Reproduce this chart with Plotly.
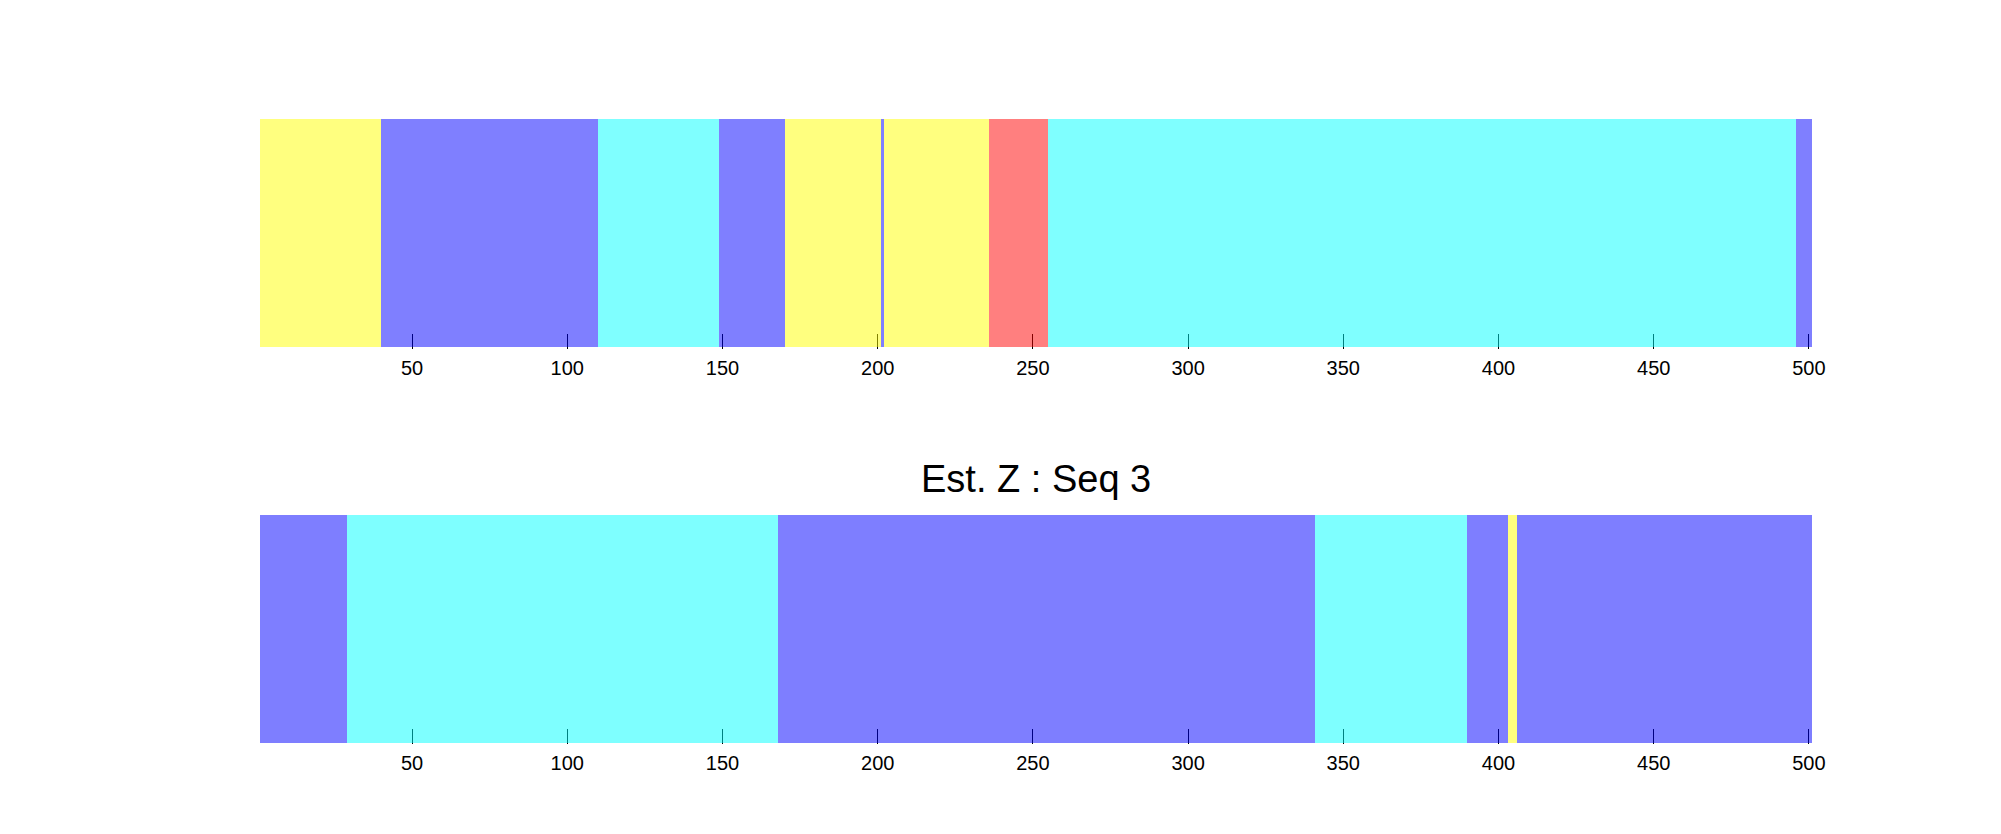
import plotly.graph_objects as go

# State colours (drawn at 50% opacity over white, like the reference)
state_names = ["blue", "cyan", "yellow", "red"]
state_colors = ["#0000FF", "#00FFFF", "#FFFF00", "#FF0000"]

# Top sequence: run boundaries (cell edges) and the state of each run
top_bounds = [1, 40, 110, 149, 170, 201, 202, 236, 255, 496, 501]
top_states = [3, 1, 2, 1, 3, 1, 3, 4, 2, 1]

# Bottom sequence: "Est. Z : Seq 3"
bot_bounds = [1, 29, 168, 341, 390, 403, 406, 501]
bot_states = [1, 2, 1, 2, 1, 3, 1]

tick_vals = [50, 100, 150, 200, 250, 300, 350, 400, 450, 500]
tick_text = [str(v) for v in tick_vals]
bottom_title = "Est. Z : Seq 3"

n = len(state_colors)
cscale = []
for i, c in enumerate(state_colors):
    cscale.append([i / n, c])
    cscale.append([(i + 1) / n, c])

FONT = "Liberation Sans, Arial, Helvetica, sans-serif"

fig = go.Figure()
for bounds, states, xa, ya in [(top_bounds, top_states, "x", "y"),
                               (bot_bounds, bot_states, "x2", "y2")]:
    fig.add_trace(go.Heatmap(
        x=bounds, y=[0, 1], z=[states],
        zmin=0.5, zmax=n + 0.5, colorscale=cscale, showscale=False,
        opacity=0.5, xaxis=xa, yaxis=ya, hoverinfo="skip"))

W, H = 2001, 834
x_dom = [260 / W, 1812 / W]
top_dom = [(H - 348.5) / H, (H - 119) / H]
bot_dom = [(H - 744) / H, (H - 515) / H]

xcommon = dict(range=[1, 501], tickmode="array", tickvals=tick_vals, ticktext=tick_text,
               ticks="inside", ticklen=15, tickwidth=1, tickcolor="black",
               showline=False, showgrid=False, zeroline=False, layer="below traces",
               automargin=False, ticklabelstandoff=5,
               tickfont=dict(family=FONT, size=20, color="black"), domain=x_dom)
ycommon = dict(range=[-0.005, 1], tickmode="array", tickvals=[-0.002], ticktext=[""],
               ticks="inside", ticklen=15, tickwidth=1.5, tickcolor="black",
               showline=False, showgrid=False, zeroline=False, showticklabels=False,
               automargin=False, layer="above traces")

fig.update_layout(
    template="none",
    width=W, height=H, margin=dict(l=0, r=0, t=0, b=0, autoexpand=False),
    paper_bgcolor="white", plot_bgcolor="white",
    xaxis=dict(**xcommon, anchor="y"),
    yaxis=dict(**ycommon, domain=top_dom, anchor="x"),
    xaxis2=dict(**xcommon, anchor="y2"),
    yaxis2=dict(**ycommon, domain=bot_dom, anchor="x2"),
    annotations=[dict(text=bottom_title, xref="paper", yref="paper",
                      x=(x_dom[0] + x_dom[1]) / 2, y=(H - 502) / H,
                      xanchor="center", yanchor="bottom", showarrow=False,
                      font=dict(family=FONT, size=38, color="black"))],
)

fig.write_html("out.html")
